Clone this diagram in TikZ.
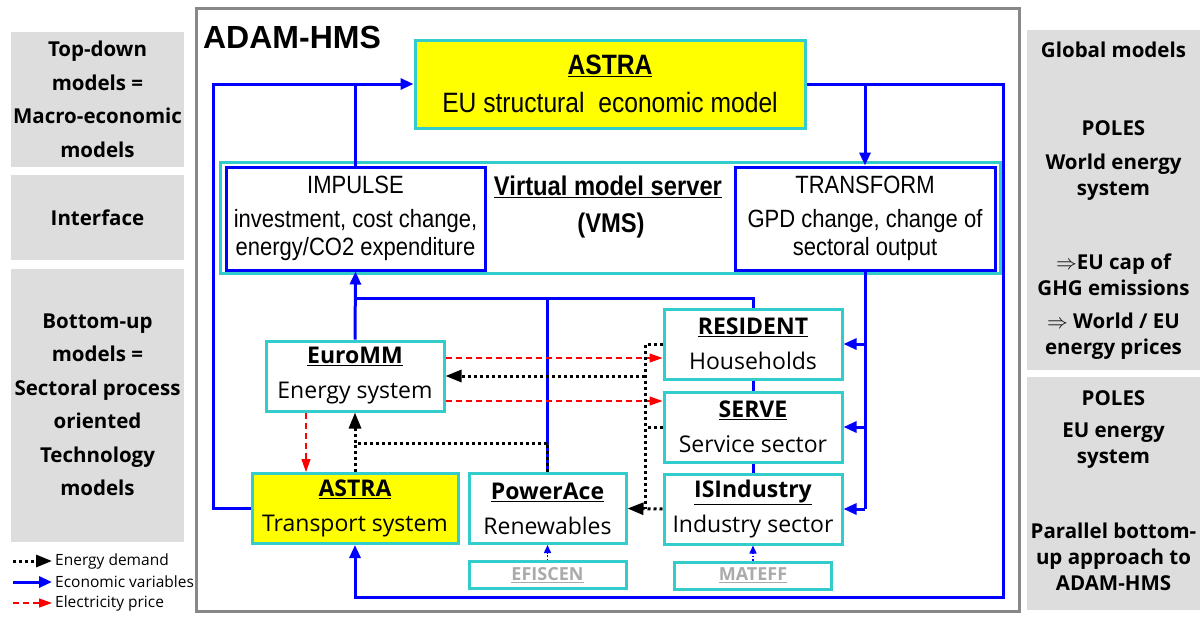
\documentclass[tikz,border=0pt]{standalone}
\usepackage{fontspec}
\setmainfont{Open Sans}
\newfontfamily\narrowfont[FakeStretch=0.88]{Liberation Sans}
\newfontfamily\arialfont{Liberation Sans}
\usetikzlibrary{arrows.meta,positioning}
\definecolor{mycyan}{RGB}{51,204,204}
\definecolor{mygrey}{RGB}{221,221,221}
\definecolor{myframe}{RGB}{136,136,136}
\definecolor{myyellow}{RGB}{255,255,0}
\definecolor{mylight}{RGB}{170,170,170}

\begin{document}
\begin{tikzpicture}[x=1pt,y=-1pt,
  cnode/.style={draw=mycyan,line width=3pt,fill=white,minimum width=178pt,minimum height=70pt,
    align=center,inner sep=0pt,font=\fontsize{23}{35}\selectfont},
  ynode/.style={cnode,fill=myyellow},
  snode/.style={draw=mycyan,line width=3pt,fill=white,minimum width=157pt,minimum height=27pt,
    inner sep=0pt,text=mylight,font=\bfseries\fontsize{18}{18}\selectfont},
  bnode/.style={draw=blue,line width=3pt,fill=white,minimum width=259pt,minimum height=103pt,
    align=center,inner sep=0pt,font=\narrowfont\fontsize{25}{28}\selectfont},
  gnode/.style={fill=mygrey,minimum width=173pt,align=center,inner sep=0pt,
    font=\bfseries\fontsize{20.5}{33.5}\selectfont},
  gtxt/.style={align=center,inner sep=0pt,font=\bfseries\fontsize{20.5}{26}\selectfont},
  ecoarr/.style={draw=blue,line width=3pt,-{Triangle[length=13pt,width=11pt]}},
  ecoline/.style={draw=blue,line width=3pt},
  smallarr/.style={draw=blue,line width=1.5pt,dash pattern=on 1.5pt off 2pt,-{Triangle[length=8pt,width=7pt]}},
  demarr/.style={line width=3pt,dash pattern=on 3pt off 3pt,-{Triangle[length=16pt,width=12pt]}},
  demline/.style={line width=3pt,dash pattern=on 3pt off 3pt},
  elecarr/.style={draw=red,line width=1.2pt,dash pattern=on 6pt off 4pt,-{Triangle[length=13pt,width=9pt]}},
  legtxt/.style={inner sep=0pt,font=\fontsize{15.5}{15.5}\selectfont}]

  \useasboundingbox (0,0) rectangle (1200,619);

  % side columns
  \node[gnode,minimum height=135pt] (tdm) at (97.5,99.5) {Top-down\\models =\\Macro-economic\\models};
  \node[gnode,minimum height=85pt] (intf) at (97.5,217.5) {Interface};
  \node[gnode,minimum height=273pt] (bum) at (97.5,405) {Bottom-up\\models =\\Sectoral process\\oriented\\Technology\\models};

  \node[gnode,minimum height=340pt] (glob) at (1113.5,200) {};
  \node[gnode,minimum height=233pt] (eupol) at (1113.5,493.5) {};
  \node[gtxt] (globtxt) at (1113.5,50) {Global models};
  \node[gtxt] (poles1) at (1113.5,161) {POLES\\[8pt]World energy\\system};
  \node[gtxt] (caps) at (1113.5,307) {$\Rightarrow$EU cap of\\GHG emissions\\[7pt]$\Rightarrow$ World / EU\\energy prices};
  \node[gtxt] (poles2) at (1113.5,430) {POLES\\[6pt]EU energy\\system};
  \node[gtxt] (para) at (1113.5,557) {Parallel bottom-\\up approach to\\ADAM-HMS};

  % frame
  \node[draw=myframe,line width=3pt,minimum width=823pt,minimum height=603pt] (adam) at (607.5,309.5) {};
  \node[font=\arialfont\bfseries\fontsize{32}{32}\selectfont] (adamtxt) at (292,37) {ADAM-HMS};

  % top-down part
  \node[ynode,minimum width=390pt,minimum height=88pt,font=\narrowfont\fontsize{28}{38}\selectfont] (astra) at (610,84)
    {\underline{\textbf{ASTRA}}\\EU structural~ economic model};
  \node[draw=mycyan,line width=3pt,minimum width=780pt,minimum height=111pt] (vms) at (610,217.5) {};
  \node[bnode] (impulse) at (355.5,218.5) {IMPULSE\\[6pt]investment, cost change,\\energy/CO2 expenditure};
  \node[bnode,minimum width=260pt] (transform) at (865,218.5) {TRANSFORM\\[6pt]GPD change, change of\\sectoral output};
  \node[font=\narrowfont\bfseries\fontsize{27}{27}\selectfont] (vmstxt) at (608,187) {\underline{Virtual model server}};
  \node[font=\narrowfont\bfseries\fontsize{27}{27}\selectfont] (vmsabbr) at (611,226) {(VMS)};

  % bottom-up part
  \node[cnode] (euromm) at (355,376) {\underline{\textbf{EuroMM}}\\Energy system};
  \node[ynode,minimum width=206pt] (astrat) at (355,508.5) {\underline{\textbf{ASTRA}}\\Transport system};
  \node[cnode,minimum width=157pt] (powerace) at (547.5,508.5) {\underline{\textbf{PowerAce}}\\Renewables};
  \node[snode,below=15pt of powerace] (efiscen) {\underline{EFISCEN}};
  \node[cnode] (resident) at (753,344) {\underline{\textbf{RESIDENT}}\\Households};
  \node[cnode,below=10pt of resident] (serve) {\underline{\textbf{SERVE}}\\Service sector};
  \node[cnode,below=9pt of serve] (isind) {\underline{\textbf{ISIndustry}}\\Industry sector};
  \node[snode,below=15pt of isind] (mateff) {\underline{MATEFF}};

  % economic variables
  \coordinate (lt) at (213,84);
  \coordinate (rt) at (1003,84);
  \coordinate (rb) at (1003,597);
  \coordinate (bus) at (0,298);
  \draw[ecoarr] (astrat.west) -| (lt) -- (astra.west);
  \draw[ecoline] (impulse.north) -- (impulse.north |- astra.west);
  \draw[ecoarr] (astra.east) -- (rt) -- (rb) -| (astrat.south);
  \draw[ecoarr] (astra.east -| transform.north) -- (transform.north);
  \draw[ecoline] (transform.south) -- (transform.south |- isind.east);
  \draw[ecoarr] (transform.south |- resident.east) -- (resident.east);
  \draw[ecoarr] (transform.south |- serve.east) -- (serve.east);
  \draw[ecoarr] (transform.south |- isind.east) -- (isind.east);
  \draw[ecoarr] (euromm.north) -- (impulse.south);
  \draw[ecoline] (euromm.north |- bus) -| (resident.north);
  \draw[ecoline] (powerace.north) -- (powerace.north |- bus);
  \draw[ecoline] (resident.south) -- (serve.north);
  \draw[ecoline] (serve.south) -- (isind.north);
  \draw[smallarr] (efiscen.north) -- (powerace.south);
  \draw[smallarr] (mateff.north) -- (isind.south);

  % electricity price
  \coordinate (e1) at ([yshift=18pt]euromm.east);
  \coordinate (e2) at ([yshift=-25pt]euromm.east);
  \coordinate (e3) at ([xshift=-49pt]euromm.south);
  \draw[elecarr] (e1) -- (e1 -| resident.west);
  \draw[elecarr] (e2) -- (e2 -| serve.west);
  \draw[elecarr] (e3) -- (e3 |- astrat.north);

  % energy demand
  \coordinate (dc) at (645,0);
  \coordinate (dj) at (355,443);
  \draw[demline] (resident.west) -- (resident.west -| dc) -- (isind.west -| dc);
  \draw[demline] (serve.west) -- (serve.west -| dc);
  \draw[demarr] (isind.west) -- (powerace.east);
  \draw[demarr] (euromm.east -| dc) -- (euromm.east);
  \draw[demline] (astrat.north) -- (dj);
  \draw[demarr] (powerace.north) |- (dj) -- (euromm.south);

  % legend
  \coordinate (l1s) at (13,561); \coordinate (l1e) at (52,561);
  \coordinate (l2s) at (13,582); \coordinate (l2e) at (52,582);
  \coordinate (l3s) at (13,603); \coordinate (l3e) at (52,603);
  \draw[demarr] (l1s) -- (l1e);
  \draw[ecoarr] (l2s) -- (l2e);
  \draw[elecarr] (l3s) -- (l3e);
  \node[legtxt,right=3pt of l1e] (l1t) {Energy demand};
  \node[legtxt,right=3pt of l2e] (l2t) {Economic variables};
  \node[legtxt,right=3pt of l3e] (l3t) {Electricity price};

\end{tikzpicture}
\end{document}
